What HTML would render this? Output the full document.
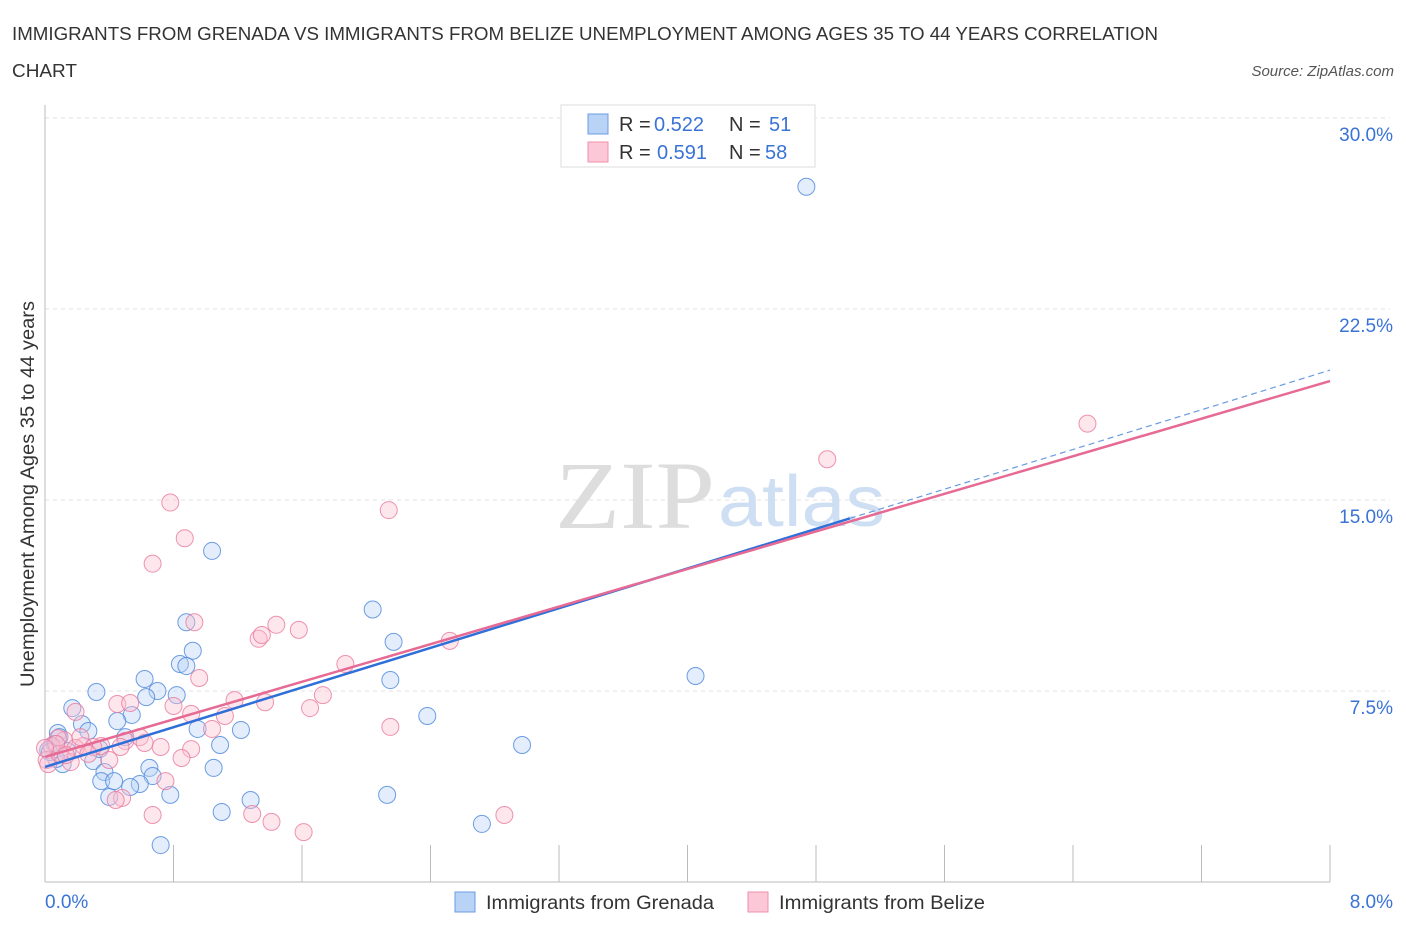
<!DOCTYPE html>
<html><head><meta charset="utf-8"><style>
body{margin:0;background:#fff;font-family:"Liberation Sans",sans-serif}
</style></head><body>
<svg width="1406" height="930" viewBox="0 0 1406 930" font-family="Liberation Sans, sans-serif">
<text x="12" y="40" font-size="18" fill="#333" textLength="1146" lengthAdjust="spacingAndGlyphs">IMMIGRANTS FROM GRENADA VS IMMIGRANTS FROM BELIZE UNEMPLOYMENT AMONG AGES 35 TO 44 YEARS CORRELATION</text>
<text x="12" y="77" font-size="18" fill="#333" textLength="65" lengthAdjust="spacingAndGlyphs">CHART</text>
<text x="1394" y="76" font-size="15" fill="#555" font-style="italic" text-anchor="end">Source: ZipAtlas.com</text>
<g id="grid"></g>
<text x="715" y="528" font-size="96" fill="#ddd" text-anchor="end" font-family="Liberation Serif, serif" textLength="160" lengthAdjust="spacingAndGlyphs">ZIP</text>
<text x="718" y="526" font-size="72" fill="#cfdff3" textLength="167" lengthAdjust="spacingAndGlyphs">atlas</text>
<line x1="45" y1="105" x2="45" y2="882" stroke="#bbb"/>
<line x1="45" y1="882" x2="1330" y2="882" stroke="#bbb"/>
<g id="ticks"></g>
<g id="points"></g>
<g id="lines"></g>
<text transform="translate(34,494) rotate(-90)" font-size="19" fill="#333" text-anchor="middle" textLength="386" lengthAdjust="spacingAndGlyphs">Unemployment Among Ages 35 to 44 years</text>
<text x="45" y="908" font-size="19" fill="#3a73d6">0.0%</text>
<text x="1393" y="908" font-size="19" fill="#3a73d6" text-anchor="end">8.0%</text>
<g>
<rect x="561" y="105" width="254" height="62" fill="#fff" stroke="#ddd"/>
<rect x="588" y="114" width="20" height="20" fill="#b9d3f6" stroke="#6a9be0"/>
<rect x="588" y="142" width="20" height="20" fill="#fcc7d7" stroke="#ee90ae"/>
<text x="619" y="131" font-size="20" fill="#333">R = </text><text x="654" y="131" font-size="20" fill="#3a73d6">0.522</text>
<text x="729" y="131" font-size="20" fill="#333">N = </text><text x="769" y="131" font-size="20" fill="#3a73d6">51</text>
<text x="619" y="159" font-size="20" fill="#333">R = </text><text x="657" y="159" font-size="20" fill="#3a73d6">0.591</text>
<text x="729" y="159" font-size="20" fill="#333">N = </text><text x="765" y="159" font-size="20" fill="#3a73d6">58</text>
</g>
<g>
<rect x="455" y="892" width="20" height="20" fill="#b9d3f6" stroke="#6a9be0"/>
<text x="486" y="909" font-size="19" fill="#333" textLength="228" lengthAdjust="spacingAndGlyphs">Immigrants from Grenada</text>
<rect x="748" y="892" width="20" height="20" fill="#fcc7d7" stroke="#ee90ae"/>
<text x="779" y="909" font-size="19" fill="#333" textLength="206" lengthAdjust="spacingAndGlyphs">Immigrants from Belize</text>
</g>
</svg>
<script>
const yTicks=[7.5,15,22.5,30];
const yTickLabels=["7.5%","15.0%","22.5%","30.0%"];
const xTicks=[0,0.8,1.6,2.4,3.2,4,4.8,5.6,6.4,7.2,8];
const grenadaX=[4.74,1.04,2.04,0.88,2.17,0.92,0.84,0.88,4.05,2.15,0.62,0.70,0.32,0.63,0.82,0.17,0.54,0.45,2.38,0.23,0.08,0.27,0.95,1.22,0.50,1.09,2.97,0.06,0.02,0.14,0.30,0.11,0.07,0.65,1.05,0.37,0.67,0.35,0.43,0.59,0.53,2.13,0.40,0.78,1.28,1.10,2.72,0.72,0.03,0.09,0.34];
const grenadaY=[27.3,13.0,10.7,10.2,9.43,9.08,8.56,8.48,8.09,7.93,7.97,7.5,7.46,7.26,7.34,6.83,6.56,6.32,6.52,6.20,5.85,5.93,6.01,5.97,5.69,5.38,5.38,5.42,5.18,5.14,4.75,4.63,4.83,4.48,4.48,4.32,4.16,3.96,3.96,3.85,3.73,3.42,3.34,3.42,3.22,2.75,2.28,1.45,5.10,5.69,5.22];
const belizeX=[6.49,4.87,0.78,2.14,0.87,0.67,0.93,1.44,1.58,1.33,1.35,2.52,1.87,0.96,1.73,1.37,1.18,0.45,0.53,1.65,0.80,0.91,0.19,1.12,1.04,2.15,0.59,0.50,0.62,0.72,0.91,0.35,0.30,0.85,0.40,0.16,0.12,0.08,0.04,0.01,0.02,0.24,0.19,0.75,0.67,1.29,1.41,1.61,0.48,0.44,2.86,0.47,0.22,0.27,0.09,0.07,0.0,0.13];
const belizeY=[18.0,16.6,14.9,14.6,13.5,12.5,10.2,10.1,9.90,9.55,9.70,9.47,8.56,8.01,7.34,7.06,7.14,6.99,7.03,6.83,6.91,6.60,6.68,6.52,6.01,6.09,5.69,5.54,5.46,5.30,5.22,5.34,5.30,4.87,4.79,4.71,5.57,5.65,5.34,4.79,4.63,5.34,5.26,3.96,2.63,2.67,2.36,1.96,3.30,3.22,2.63,5.30,5.69,5.03,5.03,5.42,5.26,4.98];
const grenadaTrend=[4.52,20.1];
const belizeTrend=[4.91,19.67];
const grenadaSolidEnd=5.01;
const X=v=>45+v/8*1285, Y=v=>882-v/7.5*191;
const NS="http://www.w3.org/2000/svg";
function mk(tag,attrs,parent){const e=document.createElementNS(NS,tag);for(const k in attrs)e.setAttribute(k,attrs[k]);document.getElementById(parent).appendChild(e);return e;}
yTicks.forEach((t,i)=>{
 const l=mk('line',{x1:45,x2:1390,y1:Y(t),y2:Y(t),stroke:'#e2e2e2','stroke-dasharray':'4,4'},'grid');
 
 
 const tx=mk('text',{x:1393,y:Y(t)+23,'font-size':19,fill:'#3a73d6','text-anchor':'end'},'grid');
 tx.textContent=yTickLabels[i];
 
 
});
xTicks.forEach(t=>{
 const l=mk('line',{x1:X(t),x2:X(t),y1:845,y2:882,stroke:'#bbb'},'ticks');
 
 
});
function pts(xs,ys,fill,stroke,name){xs.forEach((x,i)=>{
 const c=mk('circle',{cx:X(x),cy:Y(ys[i]),r:8.5,fill:fill,'fill-opacity':0.4,stroke:stroke,'stroke-opacity':0.8,'stroke-width':1},'points');
 
 
});}
pts(grenadaX,grenadaY,'#b9d3f6','#4a86dc','grenada-point');
pts(belizeX,belizeY,'#fcc0d2','#e8799d','belize-point');
const gy=x=>grenadaTrend[0]+(grenadaTrend[1]-grenadaTrend[0])*x/8;
const by=x=>belizeTrend[0]+(belizeTrend[1]-belizeTrend[0])*x/8;
let l1=mk('line',{x1:X(grenadaSolidEnd),y1:Y(gy(grenadaSolidEnd)),x2:X(8),y2:Y(gy(8)),stroke:'#6a9be0','stroke-width':1.2,'stroke-dasharray':'6,4'},'lines');


let l2=mk('line',{x1:X(0),y1:Y(gy(0)),x2:X(grenadaSolidEnd),y2:Y(gy(grenadaSolidEnd)),stroke:'#2f6fd8','stroke-width':2.5},'lines');


let l3=mk('line',{x1:X(0),y1:Y(by(0)),x2:X(8),y2:Y(by(8)),stroke:'#e66a93','stroke-width':2.5},'lines');


</script>
</body></html>
